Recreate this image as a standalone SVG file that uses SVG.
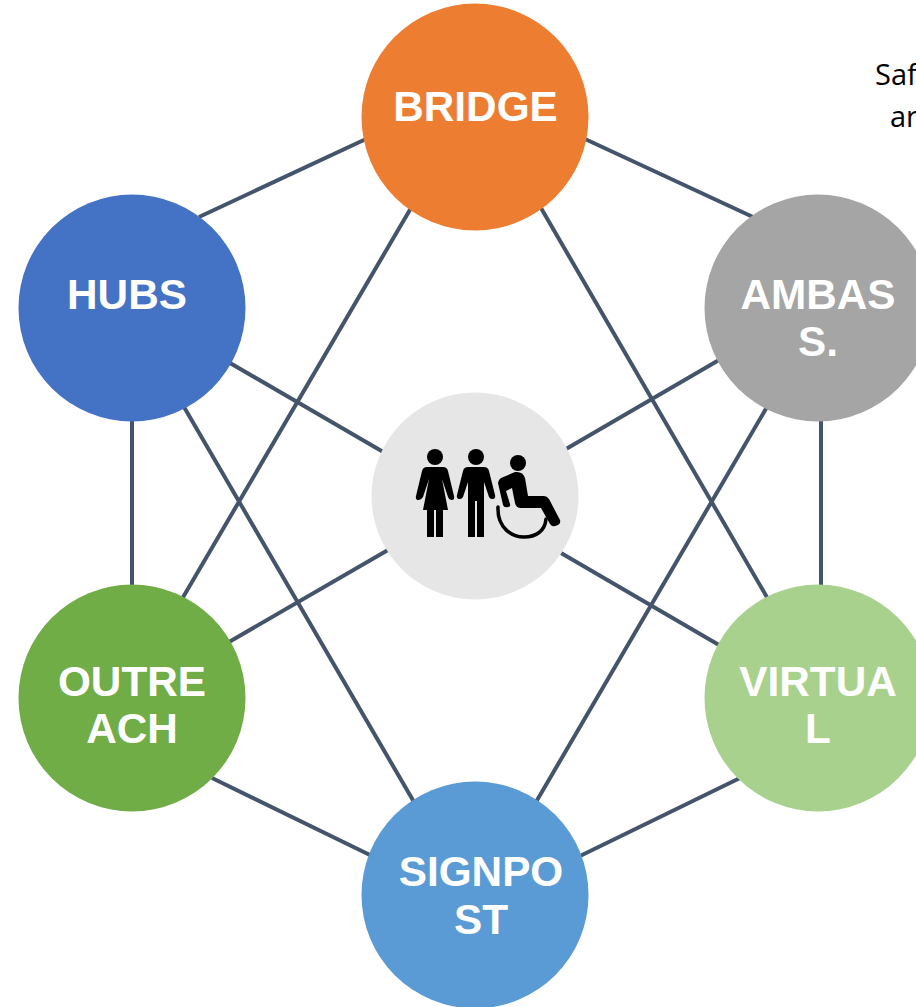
<svg xmlns="http://www.w3.org/2000/svg" width="916" height="1007" viewBox="0 0 916 1007">
<style>
.l{stroke:#44546a;stroke-width:4;fill:none}
.t{font-family:"Liberation Sans",Arial,sans-serif;font-weight:bold;font-size:42.300px;fill:#fff;text-anchor:middle}
.s{font-family:"Open Sans","Liberation Sans",sans-serif;font-size:29px;fill:#000}
.k{fill:#000;stroke:none}
.ks{fill:none;stroke:#000;stroke-linecap:round;stroke-linejoin:round}
</style>
<rect width="916" height="1007" fill="#fff"/>
<g id="connectors">
<path class="l" d="M366 139L199 217M585 139L753 217M212 778L372 856M740 778L580 856M411 208L182 599M541 208L768 599M184 407L414 802M767 407L536 802M132 420V586M821 420V586M230 363L385 453M719 360L566 449M229 642L388 550M719 645L561 553"/>
</g>
<g id="bridge"><circle cx="475" cy="117" r="113.500" fill="#ed7d31"/><text class="t" x="475.500" y="121">BRIDGE</text></g>
<g id="hubs"><circle cx="132" cy="308" r="113.500" fill="#4472c4"/><text class="t" x="127" y="309">HUBS</text></g>
<g id="ambas"><circle cx="818" cy="308" r="113.500" fill="#a5a5a5"/><text class="t" x="818" y="309">AMBAS</text><text class="t" x="818" y="356">S.</text></g>
<g id="outreach"><circle cx="132" cy="698" r="113.500" fill="#70ad47"/><text class="t" x="132" y="696">OUTRE</text><text class="t" x="132" y="743">ACH</text></g>
<g id="virtual"><circle cx="818" cy="698" r="113.500" fill="#a9d18e"/><text class="t" x="818" y="696">VIRTUA</text><text class="t" x="818" y="743">L</text></g>
<g id="signpost"><circle cx="475" cy="895" r="113.500" fill="#5b9bd5"/><text class="t" x="481" y="886">SIGNPO</text><text class="t" x="481" y="934">ST</text></g>
<g id="people">
<circle cx="475" cy="496" r="103.500" fill="#e7e6e6"/>
<circle class="k" cx="435" cy="457" r="8"/>
<path class="k" d="M427 467Q423 467 422 471L416 496Q415 500 419 500Q421 500 423 497L429 479L423 510H427V537H434V510H436V537H443V510H448L442 479L448 497Q449 500 452 500Q455 500 454 496L448 471Q447 467 443 467Z"/>
<circle class="k" cx="476" cy="457" r="8"/>
<path class="k" d="M468 467Q464 467 463 471L457 495Q456 499 460 499Q462 499 463 497L468 482V537H475V501H477V537H484V482L489 497Q490 499 492 499Q496 499 495 495L489 471Q488 467 484 467Z"/>
<circle class="k" cx="518" cy="463" r="8"/>
<path class="k" d="M498 483Q498 480 501 478L515 472Q523 471 525 478L528 496H544Q547 496 549 499L560 520Q561 523 558 525L555 526Q552 527 550 524L541 508H521Q516 508 515 503L512 488L506 491L510 504Q511 507 508 507Q504 508 503 505Z"/>
<path class="ks" stroke-width="3.500" d="M498 507C497 528 512 537 524 537C536 537 545 531 546 519"/>
</g>
<g id="note"><text class="s" x="875" y="85">Saf</text><text class="s" x="890" y="127">ar</text></g>
</svg>
